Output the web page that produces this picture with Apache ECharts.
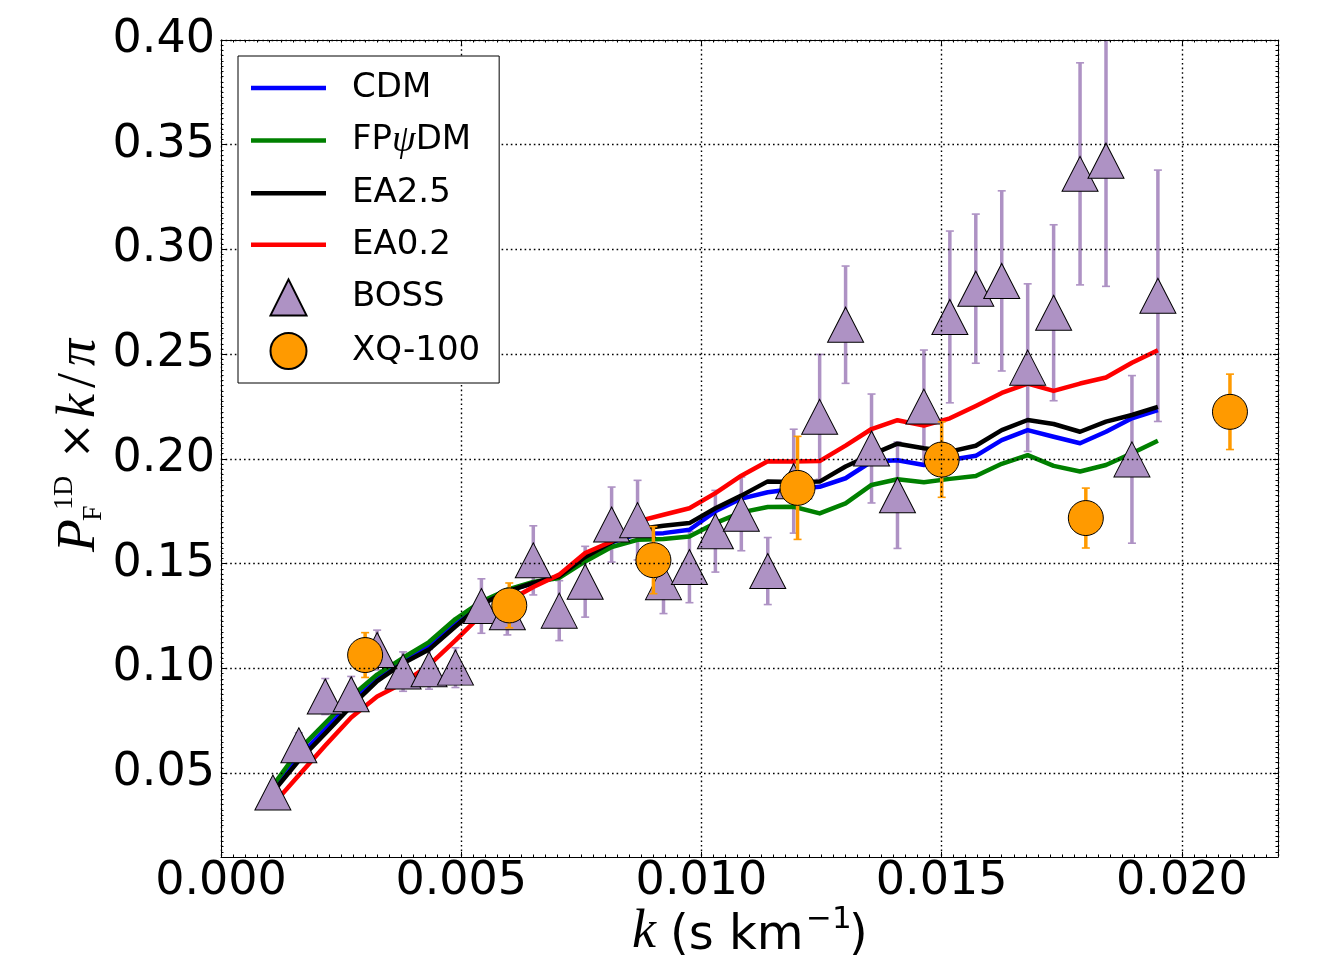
<!DOCTYPE html>
<html>
<head>
<meta charset="utf-8">
<script src="https://cdn.jsdelivr.net/npm/echarts@6/dist/echarts.min.js"></script>
<style>
  html, body { margin: 0; padding: 0; background: #fff; }
  #chart-container { width: 1318px; height: 962px; }
</style>
</head>
<body>
<div id="chart-container"></div>
<script>
var dom = document.getElementById("chart-container");
var myChart = echarts.init(dom, null, { renderer: "canvas" });

// BOSS bins (k in s/km)
var kBoss = [0.00108, 0.00162, 0.00217, 0.00271, 0.00325, 0.00379, 0.00433, 0.00488, 0.00542,
  0.00596, 0.00650, 0.00704, 0.00758, 0.00813, 0.00867, 0.00921, 0.00975, 0.01029, 0.01083,
  0.01138, 0.01192, 0.01246, 0.01300, 0.01354, 0.01408, 0.01463, 0.01517, 0.01571, 0.01625,
  0.01679, 0.01733, 0.01788, 0.01842, 0.01896, 0.01950];
var pBoss = [0.0408, 0.0633, 0.0866, 0.0877, 0.1088, 0.0985, 0.0996, 0.1004, 0.1298,
  0.1268, 0.1516, 0.1276, 0.1414, 0.1687, 0.1708, 0.1412, 0.1484, 0.1655, 0.1738,
  0.1465, 0.1894, 0.2201, 0.2641, 0.2050, 0.1827, 0.2250, 0.2678, 0.2813, 0.2850,
  0.2436, 0.2698, 0.3361, 0.3424, 0.1998, 0.2779];
var eBoss = [0.004, 0.006, 0.0086, 0.0085, 0.0095, 0.0094, 0.0095, 0.0095, 0.013,
  0.0108, 0.0165, 0.0143, 0.0169, 0.0179, 0.019, 0.015, 0.017, 0.0195, 0.0176,
  0.016, 0.0248, 0.0298, 0.028, 0.026, 0.0254, 0.027, 0.041, 0.0356, 0.043,
  0.040, 0.042, 0.053, 0.060, 0.040, 0.060];

// XQ-100
var kXq = [0.0030, 0.0060, 0.0090, 0.0120, 0.0150, 0.0180, 0.0210];
var pXq = [0.1064, 0.1301, 0.1517, 0.1862, 0.1997, 0.1718, 0.2225];
var eXq = [0.0107, 0.0107, 0.016, 0.0246, 0.018, 0.0143, 0.018];

// model curves, sampled at the BOSS k values
var pCdm = [0.042, 0.058, 0.071, 0.084, 0.0955, 0.104, 0.1105, 0.1215, 0.131,
  0.137, 0.1408, 0.1438, 0.1532, 0.1602, 0.1643, 0.1646, 0.1662, 0.175, 0.1811,
  0.1841, 0.1857, 0.1867, 0.1908, 0.1988, 0.1994, 0.1971, 0.1995, 0.2015, 0.209,
  0.2138, 0.2106, 0.2075, 0.213, 0.2194, 0.2233];
var pFp = [0.044, 0.0611, 0.0739, 0.0866, 0.0971, 0.1051, 0.1126, 0.1236, 0.132,
  0.1376, 0.1413, 0.1432, 0.1511, 0.158, 0.1614, 0.1618, 0.163, 0.1694, 0.1745,
  0.1771, 0.1772, 0.174, 0.1788, 0.1876, 0.1903, 0.1889, 0.1905, 0.1919, 0.1977,
  0.2018, 0.1967, 0.194, 0.1971, 0.2027, 0.2087];
var pEa25 = [0.041, 0.056, 0.069, 0.082, 0.094, 0.1025, 0.109, 0.120, 0.1305,
  0.1368, 0.1408, 0.144, 0.1532, 0.1602, 0.1665, 0.1681, 0.1694, 0.1765, 0.1825,
  0.1893, 0.189, 0.1892, 0.1964, 0.2021, 0.2073, 0.2051, 0.2035, 0.2063, 0.2138,
  0.2186, 0.2167, 0.213, 0.2178, 0.221, 0.2249];
var pEa02 = [0.035, 0.049, 0.0632, 0.0766, 0.0866, 0.093, 0.1016, 0.1134, 0.1256,
  0.132, 0.1389, 0.1448, 0.1551, 0.1606, 0.1702, 0.1734, 0.1765, 0.1837, 0.192,
  0.1989, 0.1988, 0.199, 0.2064, 0.2143, 0.2185, 0.2159, 0.2194, 0.2253, 0.2315,
  0.236, 0.2325, 0.236, 0.2389, 0.2459, 0.2519];

var yTicks = [0.05, 0.10, 0.15, 0.20, 0.25, 0.30, 0.35, 0.40];

var purple = "#ae92c4";
var orange = "#ff9a00";
var tickFont = "DejaVu Sans";
var dotted = { color: "#000", width: 1.4, type: [1.6, 3] };
var lineIcon = "path://M0,0H75V4.5H0Z";
var triIcon = "path://M18,0L36,36H0Z";

function pairs(xs, ys) {
  return xs.map(function (x, i) { return [x, ys[i]]; });
}
function bars(xs, ys, es) {
  return xs.map(function (x, i) { return [x, ys[i] - es[i], ys[i] + es[i]]; });
}

function errorBars(color) {
  return function (params, api) {
    var x = api.value(0);
    var lo = api.coord([x, api.value(1)]);
    var hi = api.coord([x, api.value(2)]);
    var cap = 4;
    var capStyle = { stroke: color, lineWidth: 1.6 };
    return {
      type: "group",
      children: [
        { type: "line", shape: { x1: lo[0], y1: lo[1], x2: hi[0], y2: hi[1] },
          style: { stroke: color, lineWidth: 3.5 } },
        { type: "line", shape: { x1: lo[0] - cap, y1: lo[1], x2: lo[0] + cap, y2: lo[1] }, style: capStyle },
        { type: "line", shape: { x1: hi[0] - cap, y1: hi[1], x2: hi[0] + cap, y2: hi[1] }, style: capStyle },
      ],
    };
  };
}

function modelLine(name, color, ys) {
  return {
    name: name,
    type: "line",
    z: 2,
    data: pairs(kBoss, ys),
    symbol: "none",
    silent: true,
    itemStyle: { color: color },
    lineStyle: { color: color, width: 4.5, join: "round" },
    emphasis: { disabled: true },
  };
}

function minorAxis(pos, min, max, step) {
  return {
    type: "value", position: pos, min: min, max: max, interval: step, z: 10,
    axisLine: { show: false, onZero: false },
    axisTick: { show: true, inside: true, length: 2.5, lineStyle: { color: "#000", width: 1 } },
    axisLabel: { show: false },
    splitLine: { show: false },
  };
}

var option = {
  animation: false,
  backgroundColor: "#fff",
  grid: { left: 221, right: 40, top: 40, bottom: 105 },
  xAxis: [
    {
      type: "value", position: "bottom", min: 0, max: 0.022, interval: 0.005, z: 10,
      axisLine: { show: true, onZero: false, lineStyle: { color: "#000", width: 1 } },
      axisTick: { show: true, inside: true, length: 5, lineStyle: { color: "#000", width: 1 } },
      axisLabel: {
        show: true, fontSize: 46, fontFamily: tickFont, color: "#000", margin: 2,
        showMaxLabel: false,
        formatter: function (v) { return v.toFixed(3); },
      },
      splitLine: { show: true, lineStyle: dotted },
    },
    minorAxis("bottom", 0, 0.022, 0.00025),
    {
      type: "value", position: "top", min: 0, max: 0.022, interval: 0.005, z: 10,
      axisLine: { show: true, onZero: false, lineStyle: { color: "#000", width: 1 } },
      axisTick: { show: true, inside: true, length: 5, lineStyle: { color: "#000", width: 1 } },
      axisLabel: { show: false },
      splitLine: { show: false },
    },
    minorAxis("top", 0, 0.022, 0.00025),
  ],
  yAxis: [
    {
      type: "value", position: "left", min: 0.01, max: 0.40, z: 10,
      axisLine: { show: true, onZero: false, lineStyle: { color: "#000", width: 1 } },
      axisTick: { show: true, inside: true, length: 5, customValues: yTicks,
        lineStyle: { color: "#000", width: 1 } },
      axisLabel: {
        show: true, customValues: yTicks, fontSize: 46, fontFamily: tickFont, color: "#000", margin: 6,
        formatter: function (v) { return v.toFixed(2); },
      },
      splitLine: { show: true, lineStyle: dotted },
    },
    minorAxis("left", 0.01, 0.40, 0.0025),
    {
      type: "value", position: "right", min: 0.01, max: 0.40, z: 10,
      axisLine: { show: true, onZero: false, lineStyle: { color: "#000", width: 1 } },
      axisTick: { show: true, inside: true, length: 5, customValues: yTicks,
        lineStyle: { color: "#000", width: 1 } },
      axisLabel: { show: false },
      splitLine: { show: false },
    },
    minorAxis("right", 0.01, 0.40, 0.0025),
  ],
  legend: {
    orient: "vertical",
    left: 238,
    top: 56,
    z: 20,
    padding: [14, 19, 13, 13],
    itemWidth: 75,
    itemHeight: 36,
    itemGap: 15.6,
    symbolKeepAspect: true,
    selectedMode: false,
    backgroundColor: "#fff",
    borderColor: "#000",
    borderWidth: 1,
    borderRadius: 0,
    data: [
      { name: "CDM", icon: lineIcon },
      { name: "FPψDM", icon: lineIcon },
      { name: "EA2.5", icon: lineIcon },
      { name: "EA0.2", icon: lineIcon },
      { name: "BOSS", icon: triIcon },
      { name: "XQ-100", icon: "circle" },
    ],
    formatter: function (name) {
      return name === "FPψDM" ? "{t|FP}{m|ψ}{t|DM}" : name;
    },
    textStyle: {
      fontSize: 34, fontFamily: tickFont, color: "#000", lineHeight: 36,
      padding: [0, 0, 0, 21],
      rich: {
        t: { fontSize: 34, fontFamily: tickFont, color: "#000" },
        m: { fontSize: 38, fontFamily: "Liberation Serif", fontStyle: "italic", color: "#000" },
      },
    },
  },
  graphic: [
    {
      type: "group", x: 80, y: 552, rotation: Math.PI / 2, silent: true,
      children: [
        { type: "text", x: 0, y: 0, style: { text: "P", fontSize: 54, fontFamily: "Liberation Serif",
          fontStyle: "italic", fill: "#000", verticalAlign: "middle" } },
        { type: "text", x: 42, y: -15, style: { text: "1D", fontSize: 28, fontFamily: "Liberation Serif",
          fill: "#000", verticalAlign: "middle" } },
        { type: "text", x: 31, y: 14, style: { text: "F", fontSize: 28, fontFamily: "Liberation Serif",
          fill: "#000", verticalAlign: "middle" } },
        { type: "text", x: 93, y: 0, style: { text: "×", fontSize: 44, fontFamily: "DejaVu Serif",
          fill: "#000", verticalAlign: "middle" } },
        { type: "text", x: 134, y: 0, style: { text: "k", fontSize: 54, fontFamily: "Liberation Serif",
          fontStyle: "italic", fill: "#000", verticalAlign: "middle" } },
        { type: "text", x: 164, y: 0, style: { text: "/", fontSize: 54, fontFamily: "Liberation Serif",
          fill: "#000", verticalAlign: "middle" } },
        { type: "text", x: 186, y: 0, style: { text: "π", fontSize: 54, fontFamily: "Liberation Serif",
          fontStyle: "italic", fill: "#000", verticalAlign: "middle" } },
      ],
    },
    { type: "text", x: 632, y: 933, silent: true, style: { text: "k", fontSize: 54, fontFamily: "Liberation Serif",
      fontStyle: "italic", fill: "#000", verticalAlign: "middle" } },
    { type: "text", x: 670, y: 937, silent: true, style: { text: "(s km", fontSize: 48, fontFamily: tickFont,
      fill: "#000", verticalAlign: "middle" } },
    { type: "text", x: 806, y: 920, silent: true, style: { text: "−1", fontSize: 31, fontFamily: tickFont,
      fill: "#000", verticalAlign: "middle" } },
    { type: "text", x: 849, y: 937, silent: true, style: { text: ")", fontSize: 48, fontFamily: tickFont,
      fill: "#000", verticalAlign: "middle" } },
  ],
  series: [
    {
      name: "BOSS err",
      type: "custom",
      z: 1,
      clip: true,
      silent: true,
      renderItem: errorBars(purple),
      encode: { x: 0, y: [1, 2] },
      data: bars(kBoss, pBoss, eBoss),
    },
    modelLine("CDM", "#0000ff", pCdm),
    modelLine("FPψDM", "#008000", pFp),
    modelLine("EA2.5", "#000000", pEa25),
    modelLine("EA0.2", "#ff0000", pEa02),
    {
      name: "BOSS",
      type: "scatter",
      z: 3,
      symbol: "triangle",
      symbolSize: [36, 35],
      silent: true,
      itemStyle: { color: purple, borderColor: "#000", borderWidth: 1, opacity: 1 },
      emphasis: { disabled: true },
      data: pairs(kBoss, pBoss),
    },
    {
      name: "XQ err",
      type: "custom",
      z: 4,
      clip: true,
      silent: true,
      renderItem: errorBars(orange),
      encode: { x: 0, y: [1, 2] },
      data: bars(kXq, pXq, eXq),
    },
    {
      name: "XQ-100",
      type: "scatter",
      z: 5,
      symbol: "circle",
      symbolSize: 35,
      silent: true,
      itemStyle: { color: orange, borderColor: "#000", borderWidth: 1, opacity: 1 },
      emphasis: { disabled: true },
      data: pairs(kXq, pXq),
    },
  ],
};

if (option && typeof option === "object") {
  myChart.setOption(option);
}

window.addEventListener("resize", myChart.resize);
</script>
</body>
</html>
